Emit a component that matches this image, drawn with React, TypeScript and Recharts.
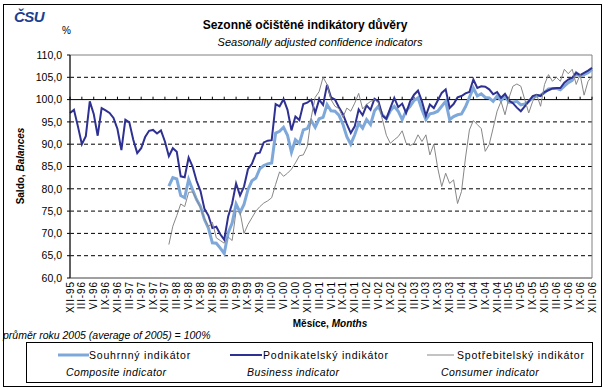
import React from 'react';
import {
  LineChart,
  Line,
  XAxis,
  YAxis,
  CartesianGrid,
  ReferenceLine,
  ReferenceArea,
} from 'recharts';

// month labels run from XII-95 to XII-06
const monthNames = ['I', 'II', 'III', 'IV', 'V', 'VI', 'VII', 'VIII', 'IX', 'X', 'XI', 'XII'];
const firstYear = 1995;
const firstMonth = 11;
const monthCount = 133;

const yTicks = [60, 65, 70, 75, 80, 85, 90, 95, 100, 105, 110];
const dashedLevels = [65, 70, 75, 80, 85, 90, 95, 105];

// Podnikatelský indikátor (Business indicator), from XII-95
const business = [
  97.0, 97.7, 94.0, 90.0, 91.8, 99.6, 96.8, 91.9, 98.1, 97.6,
  97.0, 95.9, 93.4, 88.7, 95.5, 94.9, 91.0, 88.0, 89.1, 91.6,
  93.0, 93.2, 92.4, 93.1, 90.6, 87.3, 89.1, 88.3, 82.8, 82.6,
  87.0, 85.0, 81.8, 79.5, 75.5, 74.0, 71.2, 71.5, 69.8, 68.6,
  73.8, 76.7, 81.2, 78.5, 80.5, 84.4, 85.6, 87.9, 88.1, 90.4,
  90.8, 90.9, 99.0, 98.5, 100.1, 97.7, 93.1, 96.2, 95.4, 99.0,
  99.3, 100.0, 97.0, 100.0, 98.8, 103.3, 100.5, 100.0, 98.3, 96.8,
  94.5, 92.5, 94.0, 97.8, 96.5, 98.7, 97.7, 100.2, 99.6, 96.4,
  95.7, 98.1, 100.4, 98.3, 99.1, 97.0, 99.6, 101.1, 102.0, 99.6,
  96.4, 98.9, 98.1, 99.8, 101.5, 102.3, 98.1, 99.0, 100.5, 100.8,
  101.4, 101.7, 104.5, 102.6, 103.0, 102.9, 102.3, 101.2, 101.7, 100.4,
  101.3, 99.8, 99.2, 98.2, 97.4, 98.5, 99.6, 100.8, 101.1, 100.8,
  101.7, 102.1, 102.5, 102.6, 102.6, 103.8, 104.5, 104.9, 106.0, 105.5,
  106.0, 106.5, 107.1,
];

// Souhrnný a Spotřebitelský indikátor start in I-98
const lateStart = 25;

// Souhrnný indikátor (Composite indicator)
const composite = [
  80.6, 82.5, 82.2, 78.5, 78.0, 82.1, 79.8, 77.6, 76.0, 73.1,
  71.2, 67.9, 67.8, 66.7, 65.5, 70.1, 72.3, 76.6, 74.7, 76.5,
  79.8, 81.8, 82.4, 84.5, 85.2, 85.6, 85.8, 92.5, 92.9, 93.8,
  92.0, 88.2, 91.0, 90.2, 93.2, 93.5, 95.3, 93.8, 95.7, 96.0,
  98.9, 97.5, 97.4, 96.5, 94.5, 91.7, 90.0, 92.1, 94.7, 93.6,
  95.5, 94.4, 97.5, 98.5, 96.6, 95.7, 97.5, 98.5, 97.4, 95.5,
  97.5, 98.5, 99.8, 100.4, 97.7, 95.5, 96.8, 97.0, 97.4, 98.5,
  99.6, 95.5, 96.2, 96.6, 96.8, 98.4, 100.5, 102.6, 100.8, 101.3,
  100.5, 100.4, 99.6, 100.8, 99.8, 100.8, 99.4, 99.4, 99.6, 98.8,
  99.0, 99.6, 100.4, 100.8, 101.0, 101.6, 102.4, 102.5, 102.5, 102.2,
  103.0, 103.8, 104.3, 106.0, 105.3, 105.6, 106.0, 106.8,
];

// Spotřebitelský indikátor (Consumer indicator)
const consumer = [
  67.5, 71.6, 74.0, 76.6, 76.0, 79.2, 79.3, 77.6, 75.7, 73.3,
  71.5, 72.5, 69.0, 68.4, 67.8, 69.2, 68.4, 75.0, 74.8, 70.0,
  72.0, 73.5, 75.0, 76.0, 76.8, 77.3, 78.0, 81.0, 83.8, 82.8,
  83.5, 84.4, 85.8, 87.4, 87.6, 89.5, 96.0, 100.5, 101.8, 105.0,
  103.4, 100.0, 98.5, 98.0, 96.0, 98.1, 97.4, 99.2, 101.4, 97.9,
  98.9, 99.6, 100.0, 99.3, 95.5, 92.0, 90.2, 91.0, 91.7, 93.0,
  90.2, 89.7, 90.2, 92.1, 90.6, 92.1, 87.6, 90.0, 84.6, 80.5,
  83.5, 81.2, 82.0, 76.7, 79.4, 86.9, 93.2, 95.3, 94.4, 93.5,
  88.4, 89.9, 93.6, 97.4, 99.6, 96.6, 100.4, 103.0, 103.5, 103.0,
  100.0, 97.0, 99.6, 101.1, 98.5, 103.4, 105.6, 104.1, 105.0, 104.1,
  106.8, 105.8, 106.8, 103.4, 105.6, 101.0, 104.1, 105.3,
];

const labels = Array.from({ length: monthCount }, (_, i) => {
  const m = firstMonth + i;
  const year = firstYear + Math.floor(m / 12);
  return `${monthNames[m % 12]}-${String(year).slice(2)}`;
});

const data = labels.map((label, i) => ({
  label,
  business: business[i],
  composite: i >= lateStart ? composite[i - lateStart] : null,
  consumer: i >= lateStart ? consumer[i - lateStart] : null,
}));

const tickLabels = labels.filter((_, i) => i % 3 === 0);

const FONT = '"Liberation Sans", Arial, sans-serif';
const COMPOSITE = '#7fa8da';
const BUSINESS = '#2e3192';
const CONSUMER = '#878787';

const MonthTick = ({ x, y, payload }: any) => (
  <text
    x={x}
    y={y}
    transform={`rotate(-90 ${x} ${y})`}
    textAnchor="end"
    dy="0.35em"
    fontSize={10}
    letterSpacing={0.9}
    fontFamily={FONT}
    fill="#000"
  >
    {payload.value}
  </text>
);

const legendItems = [
  { cz: 'Souhrnný indikátor', en: 'Composite indicator', color: COMPOSITE, width: 3, x1: 58, x2: 89, tx: 89, ex: 66 },
  { cz: 'Podnikatelský indikátor', en: 'Business indicator', color: BUSINESS, width: 2, x1: 230, x2: 262, tx: 263, ex: 247 },
  { cz: 'Spotřebitelský indikátor', en: 'Consumer indicator', color: CONSUMER, width: 1, x1: 427, x2: 454, tx: 457, ex: 441 },
];

export default function App() {
  return (
    <div style={{ position: 'absolute', left: 0, top: 0, width: 609, height: 390, background: '#fff' }}>
      <LineChart
        width={609}
        height={390}
        data={data}
        margin={{ top: 55, right: 17, left: 30, bottom: 72 }}
      >
        <ReferenceArea
          x1={labels[0]}
          x2={labels[monthCount - 1]}
          y1={60}
          y2={110}
          fill="none"
          stroke="#808080"
          strokeWidth={1}
        />
        <CartesianGrid
          vertical={false}
          horizontalValues={dashedLevels}
          stroke="#000"
          strokeDasharray="4 3"
        />
        <XAxis
          dataKey="label"
          interval={2}
          padding={{ left: 0, right: 0 }}
          tick={<MonthTick />}
          tickLine={false}
          tickSize={0}
          tickMargin={3}
          height={40}
          axisLine={{ stroke: '#808080' }}
        />
        <YAxis
          domain={[60, 110]}
          ticks={yTicks}
          width={40}
          interval={0}
          tickSize={3}
          tickMargin={5}
          tickFormatter={(v: number) => v.toFixed(1).replace('.', ',')}
          tick={{ fontSize: 10.5, fill: '#000', fontFamily: FONT }}
          axisLine={{ stroke: '#000' }}
          tickLine={{ stroke: '#000' }}
        />
        <ReferenceLine y={100} stroke="#000" strokeWidth={1} />
        {tickLabels.map((t) => (
          <ReferenceLine
            key={t}
            segment={[{ x: t, y: 100 }, { x: t, y: 100.65 }]}
            stroke="#000"
            strokeWidth={1}
          />
        ))}
        <Line
          type="linear"
          dataKey="composite"
          stroke={COMPOSITE}
          strokeWidth={3}
          dot={false}
          isAnimationActive={false}
        />
        <Line
          type="linear"
          dataKey="business"
          stroke={BUSINESS}
          strokeWidth={2}
          dot={false}
          isAnimationActive={false}
        />
        <Line
          type="linear"
          dataKey="consumer"
          stroke={CONSUMER}
          strokeWidth={1}
          dot={false}
          isAnimationActive={false}
        />
      </LineChart>
      <svg
        width={609}
        height={390}
        style={{ position: 'absolute', left: 0, top: 0, pointerEvents: 'none' }}
        fontFamily={FONT}
      >
        <rect x={3.5} y={4.5} width={598} height={382} fill="none" stroke="#000" />
        <text x={14} y={22} fontSize={15} fontWeight={900} fontStyle="italic" fill="#1d3f8e" letterSpacing={-0.5}>
          ČSU
        </text>
        <text x={62} y={34} fontSize={10}>%</text>
        <text x={305} y={29} textAnchor="middle" fontSize={12} fontWeight="bold">
          Sezonně očištěné indikátory důvěry
        </text>
        <text x={320} y={46} textAnchor="middle" fontSize={11} fontStyle="italic">
          Seasonally adjusted confidence indicators
        </text>
        <text
          x={24}
          y={166}
          transform="rotate(-90 24 166)"
          textAnchor="middle"
          fontSize={10}
          fontWeight="bold"
        >
          Saldo, <tspan fontStyle="italic">Balances</tspan>
        </text>
        <text x={330} y={327} textAnchor="middle" fontSize={10} fontWeight="bold">
          Měsíce, <tspan fontStyle="italic">Months</tspan>
        </text>
        <text x={3} y={339} fontSize={10.5} fontStyle="italic">
          průměr roku 2005 (average of 2005) = 100%
        </text>
        <rect x={26.5} y={342.5} width={566} height={40} fill="#fff" stroke="#000" />
        {legendItems.map((it) => (
          <g key={it.cz}>
            <line x1={it.x1} x2={it.x2} y1={355} y2={355} stroke={it.color} strokeWidth={it.width} />
            <text x={it.tx} y={359} fontSize={10.5} letterSpacing={0.8}>
              {it.cz}
            </text>
            <text x={it.ex} y={376} fontSize={10.5} fontStyle="italic" letterSpacing={0.4}>
              {it.en}
            </text>
          </g>
        ))}
      </svg>
    </div>
  );
}
